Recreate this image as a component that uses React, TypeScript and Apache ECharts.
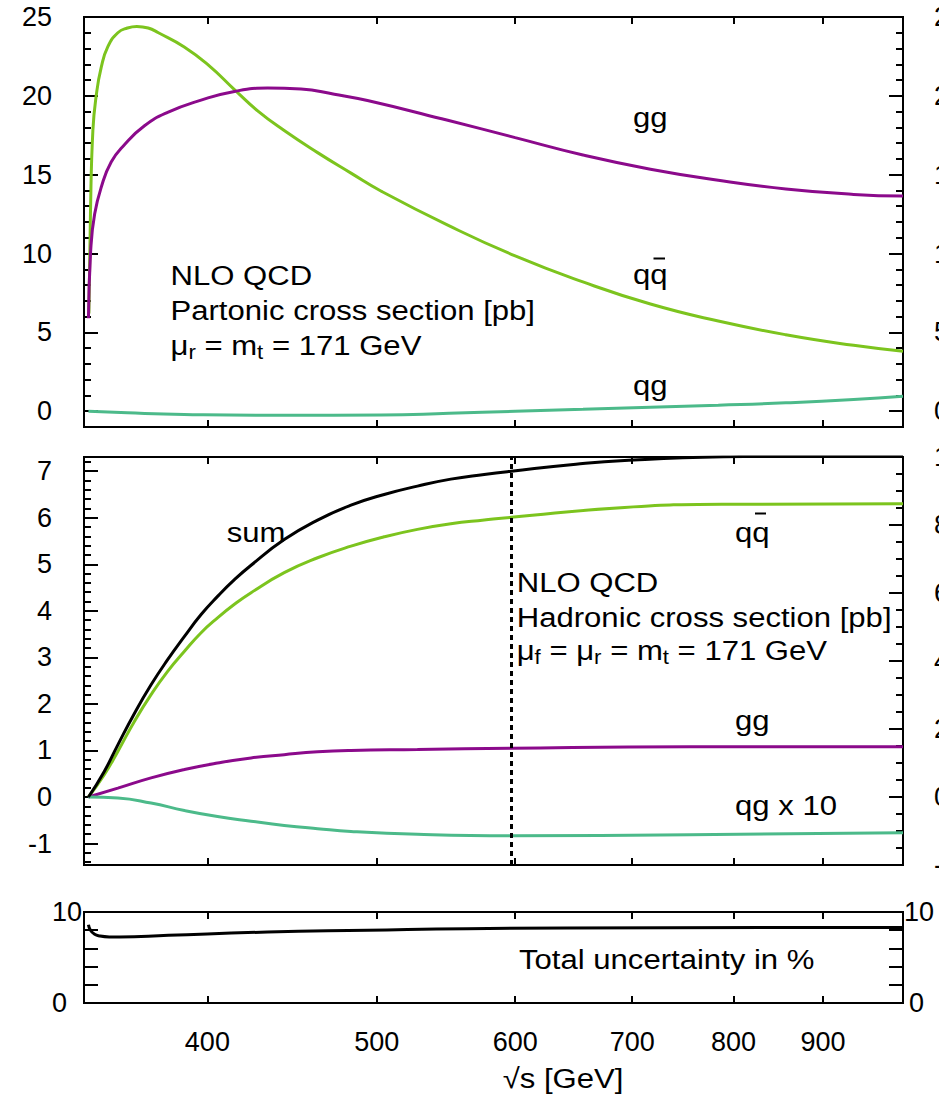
import React, { useEffect, useRef } from "react";
import * as echarts from "echarts";

const FONT = '"Liberation Sans", Arial, Helvetica, sans-serif';
const PURPLE = "#8b0a8b";
const YGREEN = "#7cc41e";
const TEAL = "#4cba8a";

// ---- x axis (sqrt(s) in GeV, logarithmic) ----
const sqrtSRange = [340, 1000];
const xTicks = [400, 500, 600, 700, 800, 900];

// ---- top panel: partonic cross section [pb] ----
const partonicRange = [-1, 25];
const partonicLabels = [0, 5, 10, 15, 20, 25];
const partonicGG: [number, number][] = [
  [342, 5.9], [343.1, 10.4], [344.8, 12.5], [347.8, 14.2], [352.4, 15.8], [358.6, 16.9],
  [368.2, 18.1], [379.6, 18.95], [396.7, 19.73], [414.5, 20.28], [433, 20.49], [452.5, 20.43],
  [472.8, 20.1], [493.9, 19.7], [549, 18.45], [600, 17.35], [656, 16.25], [717, 15.35],
  [784, 14.65], [857, 14.1], [937, 13.75], [1000, 13.65],
];
const partonicQQbar: [number, number][] = [
  [342.2, 6.2], [342.9, 12.5], [344.0, 17.8], [345.6, 20.1], [347.8, 21.8], [350.8, 23.1],
  [355.5, 24.0], [360, 24.3], [364.5, 24.4], [370, 24.3], [375, 24.0], [388, 23.1], [401, 21.9],
  [414.5, 20.4], [427.4, 19.05], [442.6, 17.8], [462.5, 16.4], [483.3, 15.1], [503, 13.95],
  [549, 11.8], [600, 9.85], [656, 8.2], [717, 6.8], [784, 5.72], [857, 4.85], [937, 4.18],
  [1000, 3.8],
];
const partonicQG: [number, number][] = [
  [342, 0], [360, -0.1], [388, -0.2], [443, -0.26], [503, -0.24], [550, -0.13], [600, 0],
  [656, 0.12], [717, 0.25], [784, 0.38], [857, 0.53], [937, 0.74], [1000, 0.95],
];

// ---- middle panel: hadronic cross section [pb] ----
const hadronicLeftRange = [-1.461, 7.305];
const hadronicLeftLabels = [-1, 0, 1, 2, 3, 4, 5, 6, 7];
const hadronicRightRange = [-2, 10];
const hadronicRightLabels = [-2, 0, 2, 4, 6, 8, 10];
const hadronicSum: [number, number][] = [
  [342, 0], [349.2, 0.55], [355.5, 1.12], [363.4, 1.8], [371.4, 2.41], [379.6, 2.95],
  [388.1, 3.45], [396.7, 3.92], [405.4, 4.31], [414.5, 4.67], [423.7, 4.98], [442.6, 5.53],
  [462.5, 5.95], [483.3, 6.27], [504.9, 6.5], [527.5, 6.68], [551.2, 6.83], [576, 6.93],
  [597, 7.0], [650, 7.15], [693, 7.23], [789, 7.31], [900, 7.33], [1000, 7.34],
];
const hadronicQQbar: [number, number][] = [
  [342, 0], [349.2, 0.48], [355.5, 0.98], [363.4, 1.63], [371.4, 2.2], [379.6, 2.7],
  [388.1, 3.13], [396.7, 3.53], [405.4, 3.85], [414.5, 4.14], [423.7, 4.39], [442.6, 4.82],
  [462.5, 5.14], [483.3, 5.39], [504.9, 5.59], [527.5, 5.75], [551.2, 5.87], [576, 5.95],
  [597, 6.01], [693, 6.22], [789, 6.29], [1000, 6.3],
];
const hadronicGG: [number, number][] = [
  [342, 0], [355.5, 0.19], [371.4, 0.41], [388.1, 0.59], [405.4, 0.73], [423.7, 0.84],
  [442.6, 0.91], [462.5, 0.97], [483.3, 1.0], [527.5, 1.02], [597, 1.05], [755, 1.08], [1000, 1.08],
];
const hadronicQGx10: [number, number][] = [
  [342, 0], [355.5, -0.02], [371.4, -0.13], [388.1, -0.29], [405.4, -0.42], [423.7, -0.52],
  [442.6, -0.61], [462.5, -0.68], [483.3, -0.74], [527.5, -0.8], [597, -0.83], [755, -0.81],
  [1000, -0.77],
];
const markerSqrtS = 597;

// ---- bottom panel: total uncertainty in % ----
const uncRange = [0, 10];
const uncLabels = [0, 10];
const uncTicks = [2, 4, 6, 8];
const uncertainty: [number, number][] = [
  [342, 8.6], [342.9, 8.0], [344.8, 7.55], [347, 7.37], [351.5, 7.26], [356.4, 7.25],
  [380, 7.44], [433, 7.8], [494, 7.99], [563, 8.17], [733, 8.28], [1000, 8.3],
];

function steps(a: number, b: number, d: number): number[] {
  const out: number[] = [];
  const n = Math.round((b - a) / d);
  for (let i = 0; i <= n; i++) out.push(Math.round((a + i * d) * 1000) / 1000);
  return out;
}

const partonicMinor = steps(-1, 25, 1);
const hadronicLeftMinor = steps(-1.4, 7.2, 0.2);
const hadronicRightMinor = steps(-2, 10, 0.5);

function xAxis(gridIndex: number, position: "bottom" | "top", withLabels: boolean) {
  return {
    type: "log",
    logBase: 10,
    gridIndex,
    position,
    min: sqrtSRange[0],
    max: sqrtSRange[1],
    axisLine: { show: false, onZero: false },
    splitLine: { show: false },
    minorTick: { show: false },
    minorSplitLine: { show: false },
    axisTick: {
      show: true,
      inside: true,
      length: 7,
      customValues: xTicks,
      lineStyle: { color: "#000", width: 2 },
    },
    axisLabel: withLabels
      ? {
          show: true,
          customValues: xTicks,
          margin: 25,
          fontSize: 27,
          fontFamily: FONT,
          color: "#000",
          formatter: (v: number) => String(Math.round(v)),
        }
      : { show: false },
  };
}

function yAxis(
  gridIndex: number,
  position: "left" | "right",
  range: number[],
  ticks: number[],
  tickLen: number,
  labels?: { values: number[]; margin: number; formatter?: (v: number) => string; rich?: any }
) {
  return {
    type: "value",
    gridIndex,
    position,
    min: range[0],
    max: range[1],
    axisLine: { show: false, onZero: false },
    splitLine: { show: false },
    axisTick: {
      show: true,
      inside: true,
      length: tickLen,
      customValues: ticks,
      lineStyle: { color: "#000", width: 2 },
    },
    axisLabel: labels
      ? {
          show: true,
          customValues: labels.values,
          margin: labels.margin,
          fontSize: 27,
          fontFamily: FONT,
          color: "#000",
          formatter: labels.formatter || ((v: number) => String(v)),
          rich: labels.rich,
        }
      : { show: false },
  };
}

function line(name: string, data: [number, number][], color: string, xi: number, yi: number, extra: any = {}) {
  return {
    type: "line",
    name,
    data,
    xAxisIndex: xi,
    yAxisIndex: yi,
    symbol: "none",
    smooth: 0.5,
    lineStyle: { color, width: 3 },
    itemStyle: { color },
    emphasis: { disabled: true },
    silent: true,
    ...extra,
  };
}

const SCALE_X = 1.11;
function txt(x: number, y: number, text: string, extra: any = {}) {
  return {
    type: "text",
    x,
    y,
    scaleX: SCALE_X,
    silent: true,
    style: {
      text,
      fontSize: 28,
      fontFamily: FONT,
      fill: "#000",
      align: "left",
      verticalAlign: "middle",
      ...extra,
    },
  };
}
function subText(x: number, y: number, text: string) {
  return txt(x, y, text, {
    rich: {
      n: { fontSize: 28, fontFamily: FONT, color: "#000", lineHeight: 34 },
      s: { fontSize: 20, fontFamily: FONT, color: "#000", lineHeight: 20, padding: [14, 0, 0, 0] },
    },
  });
}
function bar(x1: number, x2: number, y: number) {
  return {
    type: "line",
    silent: true,
    shape: { x1, y1: y, x2, y2: y },
    style: { stroke: "#000", lineWidth: 2 },
  };
}

function buildOption() {
  const gridBase = {
    left: 84,
    width: 819,
    show: true,
    borderColor: "#000",
    borderWidth: 2,
    backgroundColor: "transparent",
    containLabel: false,
    outerBoundsMode: "none",
  };
  const labelRich = {
    z: { fontSize: 27, fontFamily: FONT, color: "#000" },
    t: { fontSize: 27, fontFamily: FONT, color: "#000" },
  };
  return {
    animation: false,
    backgroundColor: "#fff",
    textStyle: { fontFamily: FONT },
    grid: [
      { ...gridBase, top: 17, height: 410 },
      { ...gridBase, top: 457, height: 408 },
      { ...gridBase, top: 912, height: 91 },
    ],
    xAxis: [
      xAxis(0, "bottom", false),
      xAxis(0, "top", false),
      xAxis(1, "bottom", false),
      xAxis(1, "top", false),
      xAxis(2, "bottom", true),
      xAxis(2, "top", false),
    ],
    yAxis: [
      yAxis(0, "left", partonicRange, partonicLabels, 14, { values: partonicLabels, margin: 32 }),
      yAxis(0, "left", partonicRange, partonicMinor, 7),
      yAxis(0, "right", partonicRange, partonicLabels, 14, { values: partonicLabels, margin: 31 }),
      yAxis(0, "right", partonicRange, partonicMinor, 7),
      yAxis(1, "left", hadronicLeftRange, hadronicLeftLabels, 14, { values: hadronicLeftLabels, margin: 32 }),
      yAxis(1, "left", hadronicLeftRange, hadronicLeftMinor, 7),
      yAxis(1, "right", hadronicRightRange, hadronicRightLabels, 14, { values: hadronicRightLabels, margin: 31 }),
      yAxis(1, "right", hadronicRightRange, hadronicRightMinor, 7),
      yAxis(2, "left", uncRange, uncTicks, 14, {
        values: uncLabels,
        margin: 2,
        formatter: (v: number) => (v === 0 ? "{z|0}" : "{t|10}"),
        rich: { ...labelRich, z: { ...labelRich.z, padding: [0, 15, 0, 0] } },
      }),
      yAxis(2, "right", uncRange, uncTicks, 14, {
        values: uncLabels,
        margin: 1,
        formatter: (v: number) => (v === 0 ? "{z|0}" : "{t|10}"),
        rich: { ...labelRich, z: { ...labelRich.z, padding: [0, 0, 0, 5] } },
      }),
    ],
    series: [
      line("qqbar (partonic)", partonicQQbar, YGREEN, 0, 0),
      line("gg (partonic)", partonicGG, PURPLE, 0, 0),
      line("qg (partonic)", partonicQG, TEAL, 0, 0),
      line("qqbar (hadronic)", hadronicQQbar, YGREEN, 2, 4),
      line("gg (hadronic)", hadronicGG, PURPLE, 2, 4),
      line("qg x 10 (hadronic)", hadronicQGx10, TEAL, 2, 4),
      line("sum (hadronic)", hadronicSum, "#000", 2, 4, {
        markLine: {
          silent: true,
          symbol: ["none", "none"],
          label: { show: false },
          lineStyle: { color: "#000", width: 3, type: [5, 4] },
          emphasis: { disabled: true },
          data: [{ xAxis: markerSqrtS }],
        },
      }),
      line("total uncertainty", uncertainty, "#000", 4, 8),
    ],
    graphic: [
      txt(170.5, 275.5, "NLO QCD"),
      txt(170.5, 310.5, "Partonic cross section [pb]"),
      subText(170.5, 345, "{n|μ}{s|r}{n| = m}{s|t}{n| = 171 GeV}"),
      txt(633, 116.8, "gg"),
      txt(633, 274.3, "qq"),
      bar(653.5, 665, 258.5),
      txt(633, 384.6, "qg"),
      txt(226.7, 531.8, "sum"),
      txt(735, 532.3, "qq"),
      bar(755, 766, 513.5),
      txt(516.7, 582, "NLO QCD"),
      txt(516.7, 616.7, "Hadronic cross section [pb]"),
      subText(516.7, 650, "{n|μ}{s|f}{n| = μ}{s|r}{n| = m}{s|t}{n| = 171 GeV}"),
      txt(735, 720.3, "gg"),
      txt(735, 804.6, "qg x 10"),
      txt(519, 959.5, "Total uncertainty in %"),
      txt(563, 1077.7, "√s [GeV]", { align: "center" }),
    ],
  };
}

export default function App() {
  const ref = useRef<HTMLDivElement>(null);
  useEffect(() => {
    if (!ref.current) return;
    const chart = echarts.init(ref.current, null, { renderer: "svg" });
    chart.setOption(buildOption() as any);
    return () => chart.dispose();
  }, []);
  return (
    <div
      ref={ref}
      style={{ position: "fixed", left: 0, top: 0, width: 939, height: 1099, background: "#fff" }}
    />
  );
}
